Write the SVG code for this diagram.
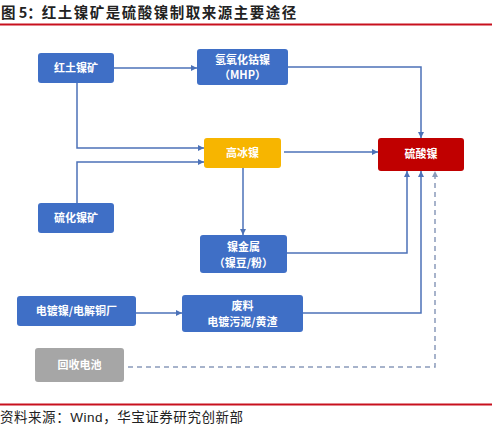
<svg xmlns="http://www.w3.org/2000/svg" width="492" height="430" viewBox="0 0 492 430">
<style>
.t{font-family:"Noto Sans CJK SC","Noto Sans",sans-serif;fill:#fff;font-size:11px;text-anchor:middle;font-weight:bold}
.b{fill:#3F6FC6}
.c{fill:none;stroke:#4C72B8;stroke-width:1.5}
.d{fill:none;stroke:#8A9BBA;stroke-width:1.5;stroke-dasharray:5,4}
.h{font-family:"Noto Sans CJK SC",sans-serif;font-size:14.5px;font-weight:bold;fill:#222}
</style>
<defs>
<marker id="a" viewBox="0 0 8 8" refX="8" refY="4" markerWidth="6" markerHeight="6" markerUnits="userSpaceOnUse" orient="auto"><path d="M0,0 L8,4 L0,8 z" fill="#4C72B8"/></marker>
<marker id="ad" viewBox="0 0 8 8" refX="8" refY="4" markerWidth="6" markerHeight="6" markerUnits="userSpaceOnUse" orient="auto"><path d="M0,0 L8,4 L0,8 z" fill="#8A9BBA"/></marker>
</defs>
<rect width="492" height="430" fill="#fff"/>
<g id="title">
<text class="h" x="1" y="18">图 5：<tspan letter-spacing="1.5">红土镍矿是硫酸镍制取来源主要途径</tspan></text>
<rect x="0" y="23.5" width="492" height="2" fill="#C8101E"/>
</g>
<g id="connectors">
<path class="c" d="M114,68 H197" marker-end="url(#a)"/>
<path class="c" d="M77,83 V148 H204" marker-end="url(#a)"/>
<path class="c" d="M77,203 V162 H204" marker-end="url(#a)"/>
<path class="c" d="M288,67 H421 V138" marker-end="url(#a)"/>
<path class="c" d="M284,152 H378" marker-end="url(#a)"/>
<path class="c" d="M243,168 V235" marker-end="url(#a)"/>
<path class="c" d="M287,253 H407 V171" marker-end="url(#a)"/>
<path class="c" d="M136,313 H182" marker-end="url(#a)"/>
<path class="c" d="M303,313 H421 V171" marker-end="url(#a)"/>
<path class="d" d="M128,367 H435 V171" marker-end="url(#ad)"/>
</g>
<g id="n1"><rect class="b" x="38" y="53" width="76" height="30" rx="3"/><text class="t" x="76" y="72">红土镍矿</text></g>
<g id="n2"><rect class="b" x="197" y="49" width="91" height="36" rx="3"/><text class="t" x="242.5" y="64">氢氧化钴镍</text><text class="t" x="242.5" y="79">（MHP）</text></g>
<g id="n3"><rect x="204" y="138" width="77" height="30" rx="3" fill="#F7B500"/><text class="t" x="242.5" y="157">高冰镍</text></g>
<g id="n4"><rect x="378" y="138" width="86" height="33" rx="3" fill="#C00000"/><text class="t" x="421" y="158">硫酸镍</text></g>
<g id="n5"><rect class="b" x="38" y="203" width="76" height="30" rx="3"/><text class="t" x="76" y="222">硫化镍矿</text></g>
<g id="n6"><rect class="b" x="200" y="235" width="87" height="38" rx="3"/><text class="t" x="243.5" y="251">镍金属</text><text class="t" x="243.5" y="267">（镍豆/粉）</text></g>
<g id="n7"><rect class="b" x="17" y="296" width="119" height="30" rx="3"/><text class="t" x="76.5" y="315">电镀镍/电解铜厂</text></g>
<g id="n8"><rect class="b" x="182" y="295" width="121" height="37" rx="3"/><text class="t" x="242.5" y="310">废料</text><text class="t" x="242.5" y="326">电镀污泥/黄渣</text></g>
<g id="n9"><rect x="35" y="348" width="89" height="34" rx="3" fill="#A6A6A6"/><text class="t" x="79.5" y="369" fill="#EDEDED">回收电池</text></g>
<g id="footer">
<rect x="0" y="403.5" width="492" height="2" fill="#C8101E"/>
<text x="0" y="422" font-family="'Liberation Sans','Noto Sans CJK SC',sans-serif" font-size="13.5" fill="#222" textLength="243" lengthAdjust="spacing">资料来源：Wind，华宝证券研究创新部</text>
</g>
</svg>
